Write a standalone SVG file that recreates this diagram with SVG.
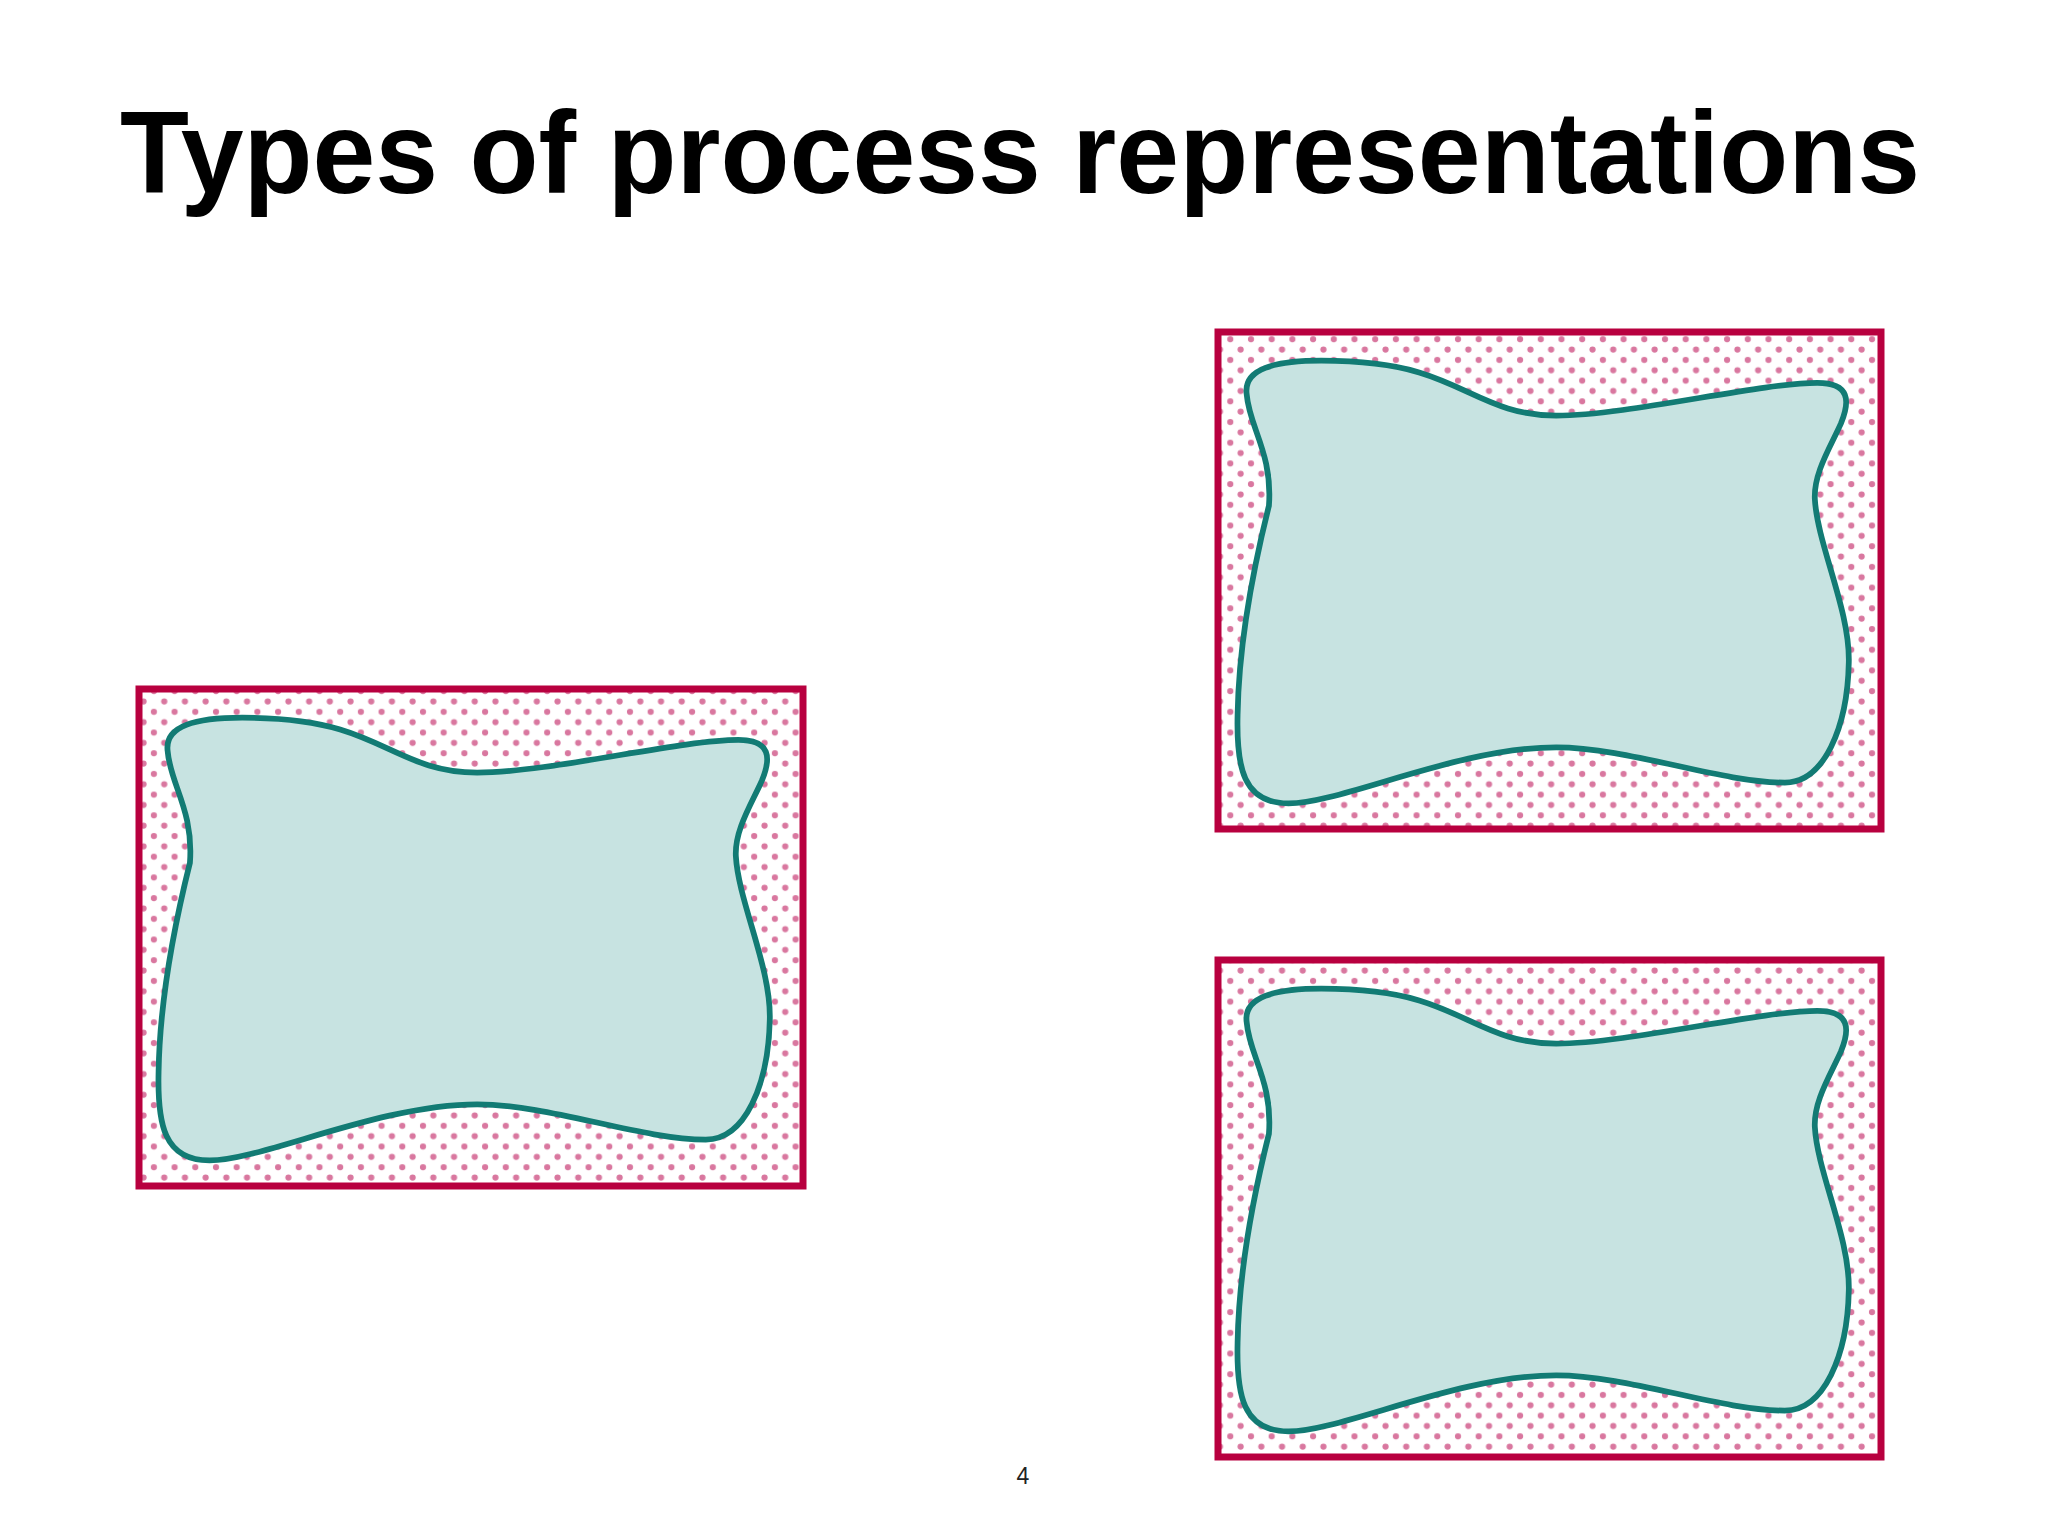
<svg xmlns="http://www.w3.org/2000/svg" width="2048" height="1536" viewBox="0 0 2048 1536">
<style>
.box{fill:url(#dots);stroke:#b8003f;stroke-width:7}
.blob{fill:#c7e3e1;stroke:#127b74;stroke-width:4.4}
.title{font-family:"Liberation Sans",Arial,sans-serif;font-weight:bold;font-size:116px;fill:#000}
.num{font-family:"Liberation Sans",Arial,sans-serif;font-size:23px;fill:#222}
</style>
<defs>
<pattern id="dots" patternUnits="userSpaceOnUse" width="20.7" height="20.7" x="4" y="3">
<rect width="20.7" height="20.7" fill="#fff"/>
<circle cx="5" cy="5" r="3.1" fill="#d9779f"/>
<circle cx="15.35" cy="15.35" r="3.1" fill="#d9779f"/>
</pattern>
<path id="blobShape" class="blob" d="M22,48 C19,28 44,22 79,22 C109,22 134,25 154,31 C194,43 214,64 259,64 C314,64 414,39 459,39 C484,39 484,53 477,70 C469,88 456,108 457,128 C459,163 484,213 483,253 C482,303 464,345 434,345 C384,345 314,318 259,318 C184,318 94,361 54,361 C19,361 14,333 15,293 C16,233 29,173 39,133 C42,93 24,73 22,48 Z"/>
</defs>
<rect width="2048" height="1536" fill="#fff"/>
<text class="title" x="1020" y="193" text-anchor="middle" textLength="1800" lengthAdjust="spacingAndGlyphs">Types of process representations</text>
<g id="node-left">
<rect class="box" x="139" y="689" width="664" height="497"/>
<use href="#blobShape" transform="translate(139,689) scale(1.306)"/>
</g>
<g id="node-top-right">
<rect class="box" x="1218" y="332" width="663" height="497"/>
<use href="#blobShape" transform="translate(1218,332) scale(1.306)"/>
</g>
<g id="node-bottom-right">
<rect class="box" x="1218" y="960" width="663" height="497"/>
<use href="#blobShape" transform="translate(1218,960) scale(1.306)"/>
</g>
<g id="connectors"></g>
<text class="num" x="1023" y="1484" text-anchor="middle">4</text>
</svg>
